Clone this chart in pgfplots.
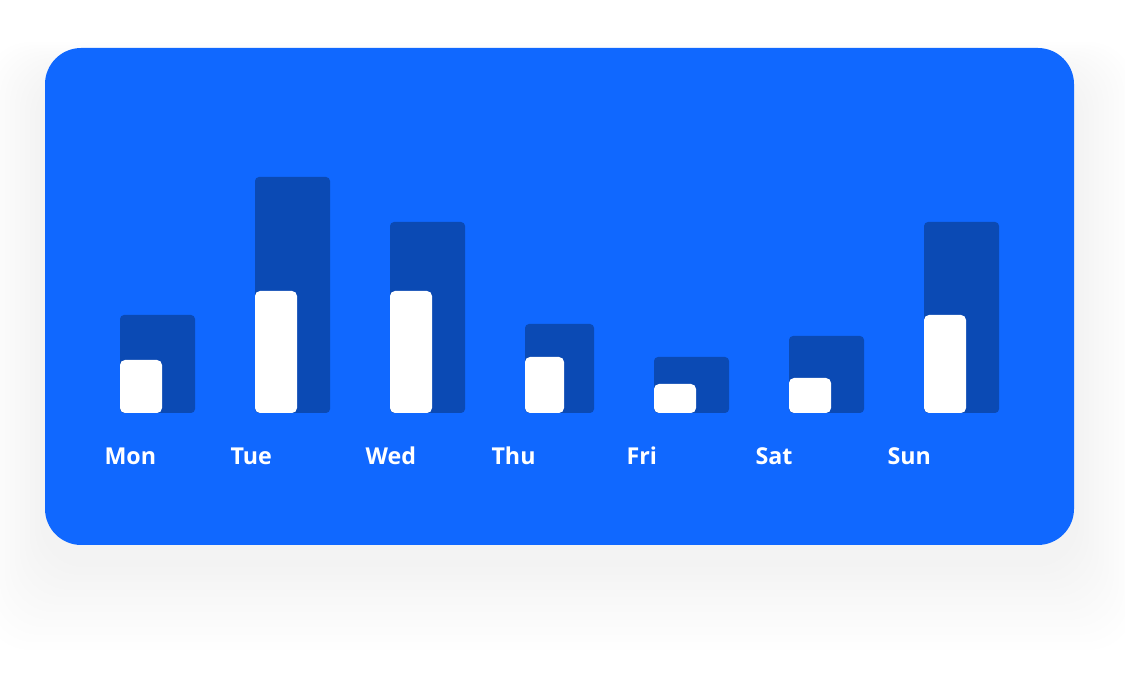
\documentclass[border=0pt]{standalone}
\usepackage{pgfplots}
\pgfplotsset{compat=1.18}
\usepackage{fontspec}
\setmainfont{Open Sans}
\definecolor{cardblue}{RGB}{16,104,255}
\definecolor{darkbar}{RGB}{11,74,180}
\begin{document}
\begin{tikzpicture}
\begin{scope}[x=0.4pt,y=-0.4pt,yshift=276pt]
  \fill[white] (0,0) rectangle (1125,690);
  \begin{scope}
    \clip (0,0) rectangle (1125,690);
    \foreach \i in {1,...,12}{
      \fill[black,opacity=0.0042,rounded corners=18pt]
        (45-\i*5,78-\i*3) rectangle (1074+\i*5,560+\i*7.5);
    }
  \end{scope}
  \fill[cardblue,rounded corners=14.5pt] (45,48) rectangle (1074,545);
\end{scope}
\begin{axis}[
  at={(0,0)}, anchor=south west,
  scale only axis, width=450pt, height=276pt,
  xmin=0, xmax=1125, ymin=-277, ymax=413,
  hide axis, clip=false,
]
% dark bars (x = bar centre in px, y = height in px)
\addplot[ybar, bar width=75, bar shift=0pt, fill=darkbar, draw=none, rounded corners=1.6pt]
  coordinates {(157.5,98) (292.5,236) (427.5,191) (691.5,56) (826.5,77) (961.5,191)};
\addplot[ybar, bar width=69, bar shift=0pt, fill=darkbar, draw=none, rounded corners=1.6pt]
  coordinates {(559.5,89)};
% white bars
\addplot[ybar, bar width=42, bar shift=0pt, fill=white, draw=none, rounded corners=2pt]
  coordinates {(141,53) (276,122) (411,122) (675,29) (810,35) (945,98)};
\addplot[ybar, bar width=39, bar shift=0pt, fill=white, draw=none, rounded corners=2pt]
  coordinates {(544.5,56)};
% day labels
\node[anchor=base west, text=white, font=\bfseries\fontsize{9.3}{12}\selectfont, inner sep=0pt] at (axis cs:104,-52) {Mon};
\node[anchor=base west, text=white, font=\bfseries\fontsize{9.3}{12}\selectfont, inner sep=0pt] at (axis cs:230,-52) {Tue};
\node[anchor=base west, text=white, font=\bfseries\fontsize{9.3}{12}\selectfont, inner sep=0pt] at (axis cs:365,-52) {Wed};
\node[anchor=base west, text=white, font=\bfseries\fontsize{9.3}{12}\selectfont, inner sep=0pt] at (axis cs:491,-52) {Thu};
\node[anchor=base west, text=white, font=\bfseries\fontsize{9.3}{12}\selectfont, inner sep=0pt] at (axis cs:626,-52) {Fri};
\node[anchor=base west, text=white, font=\bfseries\fontsize{9.3}{12}\selectfont, inner sep=0pt] at (axis cs:755,-52) {Sat};
\node[anchor=base west, text=white, font=\bfseries\fontsize{9.3}{12}\selectfont, inner sep=0pt] at (axis cs:887,-52) {Sun};
\end{axis}
\end{tikzpicture}
\end{document}
